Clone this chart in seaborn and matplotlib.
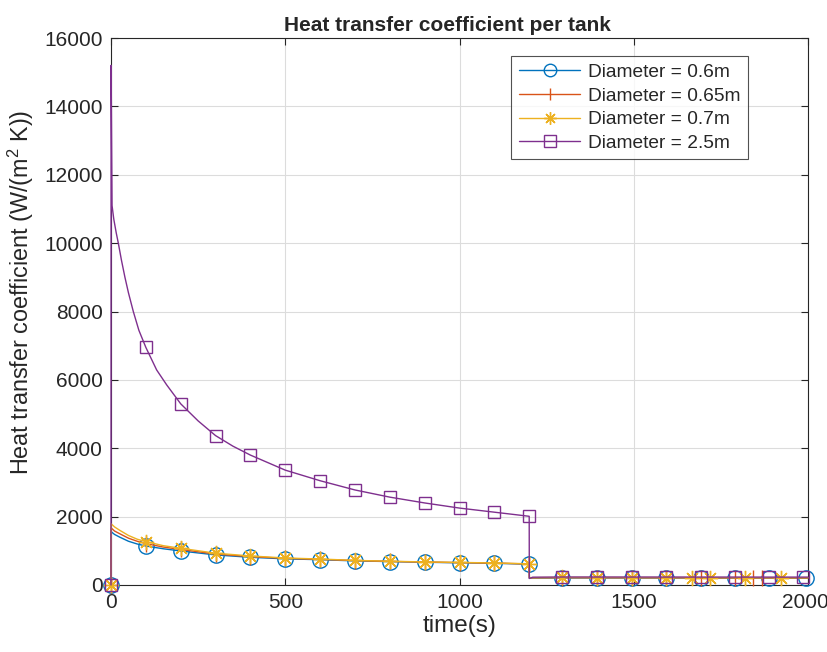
import numpy as np
import pandas as pd
import seaborn as sns
import matplotlib
matplotlib.use("Agg")
import matplotlib.pyplot as plt
from matplotlib.transforms import ScaledTranslation

# ---- data -------------------------------------------------------------
labels = ["Diameter = 0.6m", "Diameter = 0.65m", "Diameter = 0.7m", "Diameter = 2.5m"]
colors = ["#0072BD", "#D95319", "#EDB120", "#7E2F8E"]
markers = ["o", "|", (8, 2, 0), "s"]

# first (heating) phase, shared sample times for the three small tanks
t_phase1 = [0, 0.5, 10, 25, 50, 75, 100, 150, 200, 300, 400, 500, 600, 700, 800, 900, 1000, 1100, 1200]
h_d060_p1 = [0, 1560, 1480, 1400, 1280, 1200, 1140, 1060, 995, 880, 810, 765, 740, 705, 685, 665, 650, 635, 610]
h_d065_p1 = [0, 1670, 1580, 1500, 1370, 1280, 1210, 1110, 1040, 905, 830, 780, 750, 715, 690, 670, 655, 640, 615]
h_d070_p1 = [0, 1790, 1700, 1600, 1450, 1340, 1270, 1150, 1075, 930, 850, 790, 760, 720, 695, 675, 660, 645, 620]

# second phase sample times (solver steps) and values
t_d060_p2 = [1200.5, 1295, 1395, 1495, 1592, 1692, 1790, 1888, 1995, 2000]
h_d060_p2 = [200, 205, 205, 204, 203, 202, 201, 200, 199, 199]
t_d065_p2 = [1200.5, 1295, 1395, 1495, 1592, 1692, 1790, 1842, 1868, 2000]
h_d065_p2 = [210, 214, 213, 212, 211, 210, 209, 208, 208, 207]
t_d070_p2 = [1200.5, 1295, 1395, 1495, 1592, 1667, 1720, 1820, 1922, 2000]
h_d070_p2 = [215, 220, 219, 218, 217, 216, 215, 214, 213, 213]

# large tank
t_d250 = [0, 0.3, 3, 8, 15, 21, 30, 40, 50, 64, 80, 100, 131, 160, 200, 250, 300, 350, 400, 500,
          600, 700, 800, 900, 1000, 1100, 1200,
          1200.3, 1210, 1295, 1395, 1495, 1592, 1692, 1790, 1888, 1986, 2000]
h_d250 = [0, 15200, 11100, 10700, 10300, 10000, 9500, 9000, 8550, 8000, 7450, 6950, 6290, 5850, 5300, 4800, 4370, 4060, 3800, 3360,
          3050, 2780, 2570, 2400, 2250, 2130, 2010,
          190, 228, 234, 234, 233, 233, 232, 232, 231, 231, 231]

# times at which each curve carries a marker
mark_p1 = [0, 100, 200, 300, 400, 500, 600, 700, 800, 900, 1000, 1100, 1200]
mark_d060 = mark_p1 + [1295, 1395, 1495, 1592, 1692, 1790, 1888, 1995]
mark_d065 = mark_p1 + [1295, 1395, 1495, 1592, 1692, 1790, 1842, 1868]
mark_d070 = mark_p1 + [1295, 1395, 1495, 1592, 1667, 1720, 1820, 1922]
mark_d250 = mark_p1 + [1295, 1395, 1495, 1592, 1692, 1790, 1888, 1986]

series = [
    (t_phase1 + t_d060_p2, h_d060_p1 + h_d060_p2, mark_d060),
    (t_phase1 + t_d065_p2, h_d065_p1 + h_d065_p2, mark_d065),
    (t_phase1 + t_d070_p2, h_d070_p1 + h_d070_p2, mark_d070),
    (t_d250, h_d250, mark_d250),
]

# ---- style ------------------------------------------------------------
sns.set_style("white")
plt.rcParams["font.family"] = ["Liberation Sans", "DejaVu Sans"]
plt.rcParams["mathtext.fontset"] = "custom"
plt.rcParams["mathtext.rm"] = "Liberation Sans"
plt.rcParams["mathtext.it"] = "Liberation Sans"

fig = plt.figure(figsize=(8.28, 6.52), dpi=100)
ax = fig.add_axes([111 / 828, 1 - 585 / 652, 697 / 828, 547 / 652])

msizes = [11, 12, 11, 8.5]
for (t, h, mk), lab, col, m, ms in zip(series, labels, colors, markers, msizes):
    df = pd.DataFrame({"time": t, "h": h})
    idx = [i for i, tv in enumerate(t) if tv in mk]
    sns.lineplot(data=df, x="time", y="h", ax=ax, sort=False, color=col, lw=1.0,
                 marker=m, markevery=idx, markersize=ms, markerfacecolor="none",
                 markeredgecolor=col, markeredgewidth=1.0, label=lab,
                 zorder=3, clip_on=False)

ax.set_xlim(0, 2000)
ax.set_ylim(0, 16000)
ax.set_xticks(np.arange(0, 2001, 500))
ax.set_yticks(np.arange(0, 16001, 2000))
ax.grid(True, color="#dcdcdc", lw=0.8)
ax.set_axisbelow(True)
for s in ax.spines.values():
    s.set_color("#262626")
    s.set_linewidth(0.8)
    s.set_visible(True)
    s.set_zorder(2.5)
ax.tick_params(direction="in", length=5, width=0.8, colors="#262626", labelsize=15,
               top=True, right=True, bottom=True, left=True, pad=6)

# keep the last x tick label inside the canvas
fig.canvas.draw()
last = ax.get_xticklabels()[-1]
last.set_transform(last.get_transform() + ScaledTranslation(-3 / 100, 0, fig.dpi_scale_trans))

ax.set_title("Heat transfer coefficient per tank", fontsize=15, fontweight="bold", pad=5, x=0.482)
ax.set_xlabel("time(s)", fontsize=17.5, color="#262626", labelpad=2)
ax.set_ylabel("Heat transfer coefficient (W/(m$^2$ K))", fontsize=16.8, color="#262626", labelpad=6)
ax.yaxis.label.set_y(0.535)

leg = ax.legend(loc="upper right", bbox_to_anchor=(0.914, 0.967), fontsize=13.8, numpoints=1,
                frameon=True, fancybox=False, edgecolor="#262626", handlelength=3.2,
                borderpad=0.4, labelspacing=0.32, handletextpad=0.4, borderaxespad=0)
leg.get_frame().set_linewidth(0.8)
leg.set_zorder(5)
for lh in leg.get_lines():
    lh.set_markersize(9)

fig.savefig("out.png", dpi=100, facecolor="white")
